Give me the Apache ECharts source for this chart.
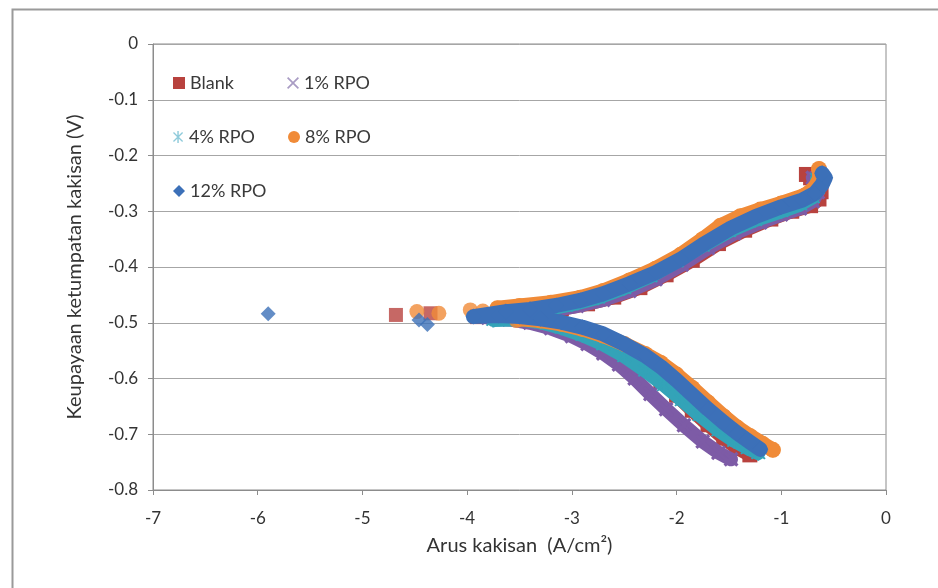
<!DOCTYPE html>
<html>
<head>
<meta charset="utf-8">
<script src="https://cdn.jsdelivr.net/npm/echarts@6/dist/echarts.min.js"></script>
<style>
html,body{margin:0;padding:0;background:#fff;}
#chart{width:938px;height:588px;}
</style>
</head>
<body>
<div id="chart"></div>
<script>
// ---------------- data ----------------
const seriesNames = ['Blank', '1% RPO', '4% RPO', '8% RPO', '12% RPO'];
const xRange = [-7, 0];
const xStep = 1;
const yRange = [-0.8, 0];
const yStep = 0.1;
const xTitle = 'Arus kakisan  (A/cm\u00b2)';
const yTitle = 'Keupayaan ketumpatan kakisan (V)';

// Blank
const blankCurve = [
  [-1.30,-0.737],[-1.42,-0.725],[-1.55,-0.707],[-1.70,-0.683],[-1.85,-0.657],[-2.00,-0.630],
  [-2.15,-0.604],[-2.30,-0.580],[-2.50,-0.555],[-2.70,-0.535],[-2.90,-0.520],[-3.10,-0.508],
  [-3.30,-0.500],[-3.50,-0.494],[-3.70,-0.491],[-3.90,-0.489],
  [-3.60,-0.485],[-3.35,-0.481],[-3.10,-0.475],[-2.85,-0.466],[-2.60,-0.454],[-2.35,-0.437],
  [-2.10,-0.414],[-1.85,-0.388],[-1.60,-0.358],[-1.35,-0.334],[-1.10,-0.314],[-0.90,-0.300],
  [-0.72,-0.290],[-0.64,-0.278],[-0.62,-0.265],[-0.66,-0.250],[-0.72,-0.240],[-0.76,-0.234]
];
const blankLoose = [[-4.68,-0.486],[-4.35,-0.483]];

// 1% RPO
const rpo1Curve = [
  [-1.48,-0.745],[-1.60,-0.733],[-1.75,-0.713],[-1.93,-0.684],[-2.10,-0.655],[-2.25,-0.628],
  [-2.40,-0.600],[-2.55,-0.575],[-2.70,-0.555],[-2.85,-0.538],[-3.00,-0.524],[-3.20,-0.510],
  [-3.40,-0.500],[-3.60,-0.494],[-3.80,-0.491],
  [-3.50,-0.483],[-3.20,-0.478],[-2.95,-0.470],[-2.70,-0.459],[-2.45,-0.443],[-2.20,-0.422],
  [-1.95,-0.396],[-1.70,-0.366],[-1.45,-0.340],[-1.20,-0.320],[-1.00,-0.306],[-0.82,-0.295],
  [-0.70,-0.282],[-0.65,-0.266],[-0.66,-0.250],[-0.70,-0.240]
];

// 4% RPO
const rpo4Curve = [
  [-1.22,-0.734],[-1.32,-0.725],[-1.45,-0.712],[-1.60,-0.693],[-1.78,-0.666],[-1.95,-0.639],
  [-2.12,-0.612],[-2.30,-0.586],[-2.50,-0.560],[-2.70,-0.539],[-2.90,-0.522],[-3.10,-0.509],
  [-3.30,-0.499],[-3.50,-0.494],[-3.75,-0.495],
  [-3.50,-0.482],[-3.25,-0.476],[-3.00,-0.467],[-2.75,-0.455],[-2.50,-0.438],[-2.25,-0.417],
  [-2.00,-0.390],[-1.75,-0.362],[-1.50,-0.336],[-1.25,-0.316],[-1.00,-0.300],[-0.82,-0.288],
  [-0.70,-0.275],[-0.65,-0.258],[-0.66,-0.242]
];

// 8% RPO
const rpo8Curve = [
  [-1.08,-0.728],[-1.18,-0.717],[-1.30,-0.703],[-1.42,-0.688],[-1.55,-0.668],[-1.70,-0.643],
  [-1.85,-0.617],[-2.00,-0.593],[-2.15,-0.572],[-2.30,-0.556],[-2.50,-0.538],[-2.70,-0.523],
  [-2.90,-0.511],[-3.10,-0.502],[-3.30,-0.496],[-3.50,-0.493],
  [-3.71,-0.474],[-3.50,-0.470],[-3.20,-0.464],[-2.92,-0.455],[-2.70,-0.443],[-2.45,-0.424],
  [-2.20,-0.403],[-1.96,-0.378],[-1.75,-0.350],[-1.58,-0.326],[-1.39,-0.309],[-1.20,-0.297],
  [-1.00,-0.286],[-0.78,-0.272],[-0.68,-0.258],[-0.63,-0.240],[-0.64,-0.224]
];
const rpo8Loose = [[-4.48,-0.480],[-4.27,-0.483],[-3.97,-0.477],[-3.85,-0.479],[-3.53,-0.496]];

// 12% RPO
const rpo12Curve = [
  [-1.20,-0.727],[-1.30,-0.714],[-1.42,-0.698],[-1.55,-0.679],[-1.70,-0.655],[-1.85,-0.629],
  [-2.00,-0.603],[-2.15,-0.579],[-2.30,-0.559],[-2.50,-0.538],[-2.70,-0.520],[-2.90,-0.508],
  [-3.10,-0.499],[-3.30,-0.493],[-3.50,-0.489],[-3.70,-0.487],[-3.94,-0.489],
  [-3.63,-0.480],[-3.40,-0.476],[-3.15,-0.469],[-2.92,-0.460],[-2.70,-0.448],[-2.45,-0.430],
  [-2.20,-0.410],[-1.96,-0.386],[-1.75,-0.360],[-1.48,-0.330],[-1.25,-0.310],[-1.00,-0.292],
  [-0.80,-0.280],[-0.68,-0.268],[-0.61,-0.252],[-0.58,-0.240],[-0.61,-0.232]
];
const rpo12Loose = [[-5.90,-0.484],[-4.38,-0.503],[-4.46,-0.495]];

// ---------------- styling ----------------
const colors = ['#B8423E', '#7D5BA6', '#33A3B8', '#F08B38', '#3C70B8'];
const xPath = 'path://M1.5,0L5,3.5L8.5,0L10,1.5L6.5,5L10,8.5L8.5,10L5,6.5L1.5,10L0,8.5L3.5,5L0,1.5Z';
const xThin = 'path://M1,0L5,4L9,0L10,1L6,5L10,9L9,10L5,6L1,10L0,9L4,5L0,1Z';
const starPath = 'path://M4.4,0H5.6V10H4.4Z M0.8,1.6L1.6,0.8L9.2,8.4L8.4,9.2Z M8.4,0.8L9.2,1.6L1.6,9.2L0.8,8.4Z';
const symbols = ['rect', xPath, starPath, 'circle', 'diamond'];
const legendIcons = ['rect', xThin, starPath, 'circle', 'diamond'];
const legendPos = [[168, 69], [282, 69], [168, 123], [283, 123], [168, 177]];
const curves = [blankCurve, rpo1Curve, rpo4Curve, rpo8Curve, rpo12Curve];
const loose = [blankLoose, [], [], rpo8Loose, rpo12Loose];
const symSize = [15, 15, 15, 16, 16];
const lineW = [14, 14, 14, 15, 15];

const FONT = 'Lato, "Open Sans", sans-serif';

const series = [];
seriesNames.forEach((n, i) => {
  series.push({
    name: n, type: 'line', data: curves[i],
    symbol: symbols[i], symbolSize: symSize[i], showSymbol: true,
    itemStyle: { color: colors[i] },
    lineStyle: { color: colors[i], width: lineW[i], cap: 'round', join: 'round' },
    emphasis: { disabled: true }, animation: false, z: 2 + i
  });
});
seriesNames.forEach((n, i) => {
  if (!loose[i].length) return;
  series.push({
    name: n, type: 'scatter', data: loose[i],
    symbol: symbols[i], symbolSize: symSize[i] - 1,
    itemStyle: { color: colors[i] }, emphasis: { disabled: true },
    animation: false, z: 2 + i
  });
});

const legends = seriesNames.map((n, i) => ({
  left: legendPos[i][0], top: legendPos[i][1],
  itemWidth: 12, itemHeight: 12, itemGap: 4,
  selectedMode: false,
  textStyle: { fontFamily: FONT, fontSize: 18, color: '#3a3a3a' },
  data: [{ name: n, icon: legendIcons[i],
           itemStyle: i === 1 ? { color: '#A99CC4' } : (i === 2 ? { color: '#8FCBDB' } : undefined) }]
}));

const chart = echarts.init(document.getElementById('chart'), null, { renderer: 'canvas' });
chart.setOption({
  animation: false,
  backgroundColor: '#ffffff',
  graphic: [{
    type: 'rect', left: 10, top: 7, z: 100, silent: true,
    shape: { x: 0, y: 0, width: 1000, height: 1000 },
    style: { fill: 'none', stroke: '#9a9a9a', lineWidth: 2 }
  }],
  grid: { left: 153, right: 52, top: 44, bottom: 98, show: true,
          borderColor: '#8c8c8c', borderWidth: 1, backgroundColor: 'transparent' },
  legend: legends,
  xAxis: {
    type: 'value', min: xRange[0], max: xRange[1], interval: xStep,
    name: xTitle, nameLocation: 'middle', nameGap: 46,
    nameTextStyle: { fontFamily: FONT, fontSize: 20, color: '#333' },
    axisLine: { show: true, onZero: false, lineStyle: { color: '#8c8c8c', width: 1 } },
    axisTick: { show: true, length: 5, lineStyle: { color: '#8c8c8c' } },
    axisLabel: { fontFamily: FONT, fontSize: 17, color: '#333', margin: 20 },
    splitLine: { show: false }
  },
  yAxis: {
    type: 'value', min: yRange[0], max: yRange[1], interval: yStep,
    name: yTitle, nameLocation: 'middle', nameGap: 68, nameRotate: 90,
    nameTextStyle: { fontFamily: FONT, fontSize: 20, color: '#333' },
    axisLine: { show: true, onZero: false, lineStyle: { color: '#8c8c8c', width: 1 } },
    axisTick: { show: true, length: 5, lineStyle: { color: '#8c8c8c' } },
    axisLabel: { fontFamily: FONT, fontSize: 17, color: '#333', margin: 15,
                 formatter: v => (Math.abs(v) < 1e-9 ? '0' : String(Math.round(v * 10) / 10)) },
    splitLine: { show: true, lineStyle: { color: '#a6a6a6', width: 1 } }
  },
  series: series
});
</script>
</body>
</html>
